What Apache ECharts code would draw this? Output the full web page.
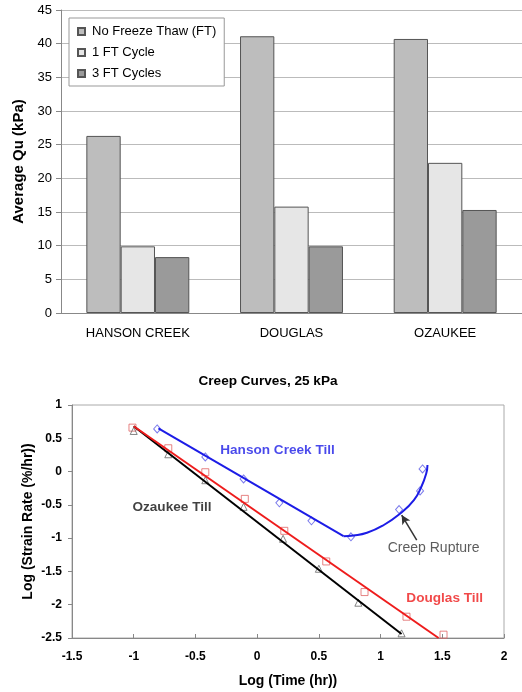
<!DOCTYPE html>
<html>
<head>
<meta charset="utf-8">
<script src="https://cdn.jsdelivr.net/npm/echarts@6/dist/echarts.min.js"></script>
<style>
html,body{margin:0;padding:0;background:#fff;}
#main{width:522px;height:692px;}
</style>
</head>
<body>
<div id="main"></div>
<script>
// ---- Top chart data ----
const categories = ['HANSON CREEK', 'DOUGLAS', 'OZAUKEE'];
const seriesNames = ['No Freeze Thaw (FT)', '1 FT Cycle', '3 FT Cycles'];
const noFT = [26.3, 41.1, 40.7];
const oneFT = [9.9, 15.8, 22.3];
const threeFT = [8.3, 9.9, 15.3];

// ---- Bottom chart data (log time, log strain rate) ----
const hansonPts = [[-0.81, 0.64], [-0.42, 0.22], [-0.11, -0.11], [0.18, -0.47], [0.44, -0.74], [0.76, -0.98], [1.15, -0.57], [1.32, -0.29], [1.34, 0.04]];
const douglasPts = [[-1.01, 0.66], [-0.72, 0.35], [-0.42, -0.01], [-0.10, -0.41], [0.22, -0.89], [0.56, -1.35], [0.87, -1.81], [1.21, -2.18], [1.51, -2.45]];
const ozaukeePts = [[-1.0, 0.61], [-0.72, 0.26], [-0.42, -0.13], [-0.11, -0.53], [0.21, -1.01], [0.50, -1.46], [0.82, -1.97], [1.17, -2.43]];
const hansonFit = [[-0.80, 0.65], [0.70, -0.97]];
const hansonRupture = [[0.70, -0.97], [0.78, -0.96], [0.89, -0.92], [1.02, -0.81], [1.16, -0.63], [1.27, -0.43], [1.33, -0.23], [1.37, -0.03], [1.38, 0.10]];
const douglasFit = [[-1.0, 0.68], [1.47, -2.5]];
const ozaukeeFit = [[-1.0, 0.68], [1.17, -2.44]];
const xTicks = { min: -1.5, max: 2, step: 0.5 };
const yTicks = { min: -2.5, max: 1, step: 0.5 };

const FONT = '"Liberation Sans", Arial, sans-serif';
const chart = echarts.init(document.getElementById('main'));

function fmt(v) { return String(Math.round(v * 10) / 10); }

const barStyle = (c) => ({ color: c, borderColor: '#555', borderWidth: 1 });
const hollow = (c) => ({ color: 'rgba(255,255,255,0)', borderColor: c, borderWidth: 1 });

const option = {
  animation: false,
  textStyle: { fontFamily: FONT },
  title: {
    text: 'Creep Curves, 25 kPa',
    left: 263, top: 369, textAlign: 'center',
    textStyle: { fontFamily: FONT, fontSize: 13.6, fontWeight: 'bold', color: '#000' }
  },
  legend: {
    data: seriesNames,
    orient: 'vertical',
    left: 69, top: 18,
    backgroundColor: '#fff',
    borderColor: '#999', borderWidth: 1,
    padding: [7, 8, 6, 8],
    itemWidth: 7, itemHeight: 7, itemGap: 8,
    icon: 'rect',
    textStyle: { fontFamily: FONT, fontSize: 13, color: '#000', padding: [0, 0, 0, 2] }
  },
  grid: [
    { left: 61, right: 0, top: 10, bottom: 379 },
    { left: 72, right: 18, top: 405, bottom: 54, show: true, borderColor: '#aaa', borderWidth: 1 }
  ],
  xAxis: [
    {
      gridIndex: 0, type: 'category', data: categories,
      axisLine: { lineStyle: { color: '#888' } },
      axisTick: { show: false },
      axisLabel: { fontFamily: FONT, fontSize: 13, color: '#000', margin: 14 }
    },
    {
      gridIndex: 1, type: 'value', min: xTicks.min, max: xTicks.max, interval: xTicks.step,
      name: 'Log (Time (hr))', nameLocation: 'middle', nameGap: 36, nameMoveOverlap: false,
      nameTextStyle: { fontFamily: FONT, fontSize: 14, fontWeight: 'bold', color: '#000' },
      axisLine: { onZero: false, lineStyle: { color: '#888' } },
      axisTick: { show: true, inside: true, length: 4, lineStyle: { color: '#888' } },
      splitLine: { show: false },
      axisLabel: { fontFamily: FONT, fontSize: 12, fontWeight: 'bold', color: '#000', margin: 13, formatter: fmt }
    }
  ],
  yAxis: [
    {
      gridIndex: 0, type: 'value', min: 0, max: 45, interval: 5,
      name: 'Average Qu (kPa)', nameLocation: 'middle', nameGap: 35, nameMoveOverlap: false,
      nameTextStyle: { fontFamily: FONT, fontSize: 15, fontWeight: 'bold', color: '#000' },
      axisLine: { show: true, lineStyle: { color: '#888' } },
      axisTick: { show: true, length: 5, lineStyle: { color: '#888' } },
      splitLine: { lineStyle: { color: '#bbb' } },
      axisLabel: { fontFamily: FONT, fontSize: 13, color: '#000', margin: 9 }
    },
    {
      gridIndex: 1, type: 'value', min: yTicks.min, max: yTicks.max, interval: yTicks.step,
      name: 'Log (Strain Rate (%/hr))', nameLocation: 'middle', nameGap: 37, nameMoveOverlap: false,
      nameTextStyle: { fontFamily: FONT, fontSize: 14, fontWeight: 'bold', color: '#000' },
      axisLine: { show: true, onZero: false, lineStyle: { color: '#888' } },
      axisTick: { show: true, length: 4, lineStyle: { color: '#888' } },
      splitLine: { show: false },
      axisLabel: { fontFamily: FONT, fontSize: 12, fontWeight: 'bold', color: '#000', margin: 10, formatter: fmt }
    }
  ],
  series: [
    { name: seriesNames[0], type: 'bar', xAxisIndex: 0, yAxisIndex: 0, data: noFT, barGap: '0%', barCategoryGap: '33%', itemStyle: barStyle('#bdbdbd') },
    { name: seriesNames[1], type: 'bar', xAxisIndex: 0, yAxisIndex: 0, data: oneFT, barGap: '0%', barCategoryGap: '33%', itemStyle: barStyle('#e6e6e6') },
    { name: seriesNames[2], type: 'bar', xAxisIndex: 0, yAxisIndex: 0, data: threeFT, barGap: '0%', barCategoryGap: '33%', itemStyle: barStyle('#9a9a9a') },

    { name: 'hanson-pts', type: 'scatter', xAxisIndex: 1, yAxisIndex: 1, data: hansonPts, symbol: 'diamond', symbolSize: [7, 8], itemStyle: hollow('#5a5ae6'), z: 3 },
    { name: 'douglas-pts', type: 'scatter', xAxisIndex: 1, yAxisIndex: 1, data: douglasPts, symbol: 'rect', symbolSize: 7, itemStyle: hollow('#e06464'), z: 3 },
    { name: 'ozaukee-pts', type: 'scatter', xAxisIndex: 1, yAxisIndex: 1, data: ozaukeePts, symbol: 'triangle', symbolSize: 7, itemStyle: hollow('#666'), z: 3 },

    { name: 'ozaukee-fit', type: 'line', xAxisIndex: 1, yAxisIndex: 1, data: ozaukeeFit, showSymbol: false, symbol: 'none', lineStyle: { color: '#000', width: 2 }, z: 4 },
    { name: 'douglas-fit', type: 'line', xAxisIndex: 1, yAxisIndex: 1, data: douglasFit, showSymbol: false, symbol: 'none', lineStyle: { color: '#ee1c1c', width: 2 }, z: 4 },
    { name: 'hanson-fit', type: 'line', xAxisIndex: 1, yAxisIndex: 1, data: hansonFit, showSymbol: false, symbol: 'none', lineStyle: { color: '#1c1ce6', width: 2 }, z: 4 },
    {
      name: 'hanson-rupture', type: 'line', xAxisIndex: 1, yAxisIndex: 1, data: hansonRupture, smooth: true,
      showSymbol: false, symbol: 'none', lineStyle: { color: '#1c1ce6', width: 2 }, z: 4,
      markLine: {
        silent: true, symbol: ['none', 'arrow'], symbolSize: [7, 9],
        lineStyle: { color: '#333', width: 1.5, type: 'solid' },
        label: { show: false },
        data: [[{ coord: [1.293, -1.03] }, { coord: [1.171, -0.654] }]]
      }
    },
    {
      name: 'annotations', type: 'scatter', xAxisIndex: 1, yAxisIndex: 1, symbolSize: 0, z: 5,
      label: { show: true, position: 'inside', fontFamily: FONT, fontSize: 13.6, fontWeight: 'bold', formatter: (p) => p.name },
      data: [
        { name: 'Hanson Creek Till', value: [0.165, 0.323], label: { color: '#1c1ce6' } },
        { name: 'Ozaukee Till', value: [-0.69, -0.54], label: { color: '#111' } },
        { name: 'Douglas Till', value: [1.52, -1.91], label: { color: '#ee1c1c' } },
        { name: 'Creep Rupture', value: [1.43, -1.155], label: { color: '#333', fontWeight: 'normal', fontSize: 14 } }
      ]
    }
  ]
};
chart.setOption(option);
</script>
</body>
</html>
